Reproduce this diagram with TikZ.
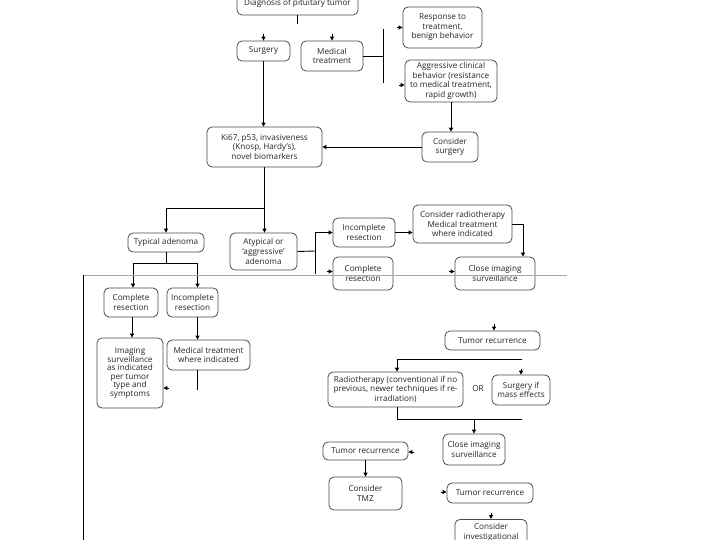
\documentclass[tikz,border=0pt]{standalone}
\usepackage{fontspec}
\setmainfont{Open Sans}
\usetikzlibrary{arrows.meta,calc}
\begin{document}
\begin{tikzpicture}[x=1bp,y=-1bp,
  bx/.style={draw=black!70, line width=0.8bp, rounded corners=5bp, align=center,
    font=\fontsize{8.2}{9.6}\selectfont, inner sep=1bp, text=black!85},
  ln/.style={draw=black, line width=0.9bp},
  ar/.style={ln, -{Triangle[length=4bp,width=4bp]}}]
\clip (0,0) rectangle (720,540);
\fill[white] (0,0) rectangle (720,540);

% upper part
\node[bx, minimum width=121bp, minimum height=23bp] (diag) at (297.5,3.5) {Diagnosis of pituitary tumor};
\node[bx, minimum width=53bp, minimum height=20bp] (surg) at (263.5,51) {Surgery};
\node[bx, minimum width=62bp, minimum height=30bp] (med) at (332,56) {Medical\\treatment};
\node[bx, minimum width=79bp, minimum height=41bp] (resp) at (442.5,27.5) {Response to\\treatment,\\benign behavior};
\node[bx, minimum width=92bp, minimum height=42bp] (aggr) at (451,81) {Aggressive clinical\\behavior (resistance\\to medical treatment,\\rapid growth)};
\node[bx, minimum width=56bp, minimum height=30bp] (cons) at (450,147) {Consider\\surgery};
\node[bx, minimum width=115bp, minimum height=40bp] (ki) at (264.5,147) {Ki67, p53, invasiveness\\(Knosp, Hardy's),\\novel biomarkers};
\node[bx, minimum width=76bp, minimum height=19bp] (typ) at (166,242.5) {Typical adenoma};
\node[bx, minimum width=67bp, minimum height=37bp] (atyp) at (263.5,251.5) {Atypical or\\`aggressive'\\adenoma};
\node[bx, minimum width=54bp, minimum height=29bp] (comL) at (131,302.5) {Complete\\resection};
\node[bx, minimum width=51bp, minimum height=29bp] (incL) at (192.5,302.5) {Incomplete\\resection};
\node[bx, minimum width=66bp, minimum height=70bp, font=\fontsize{8.2}{8.6}\selectfont] (img) at (130,373) {Imaging\\surveillance\\as indicated\\per tumor\\type and\\symptoms};
\node[bx, minimum width=83bp, minimum height=30bp] (medL) at (208.5,355) {Medical treatment\\where indicated};
\node[bx, minimum width=62bp, minimum height=29bp] (incR) at (364,232.5) {Incomplete\\resection};
\node[bx, minimum width=99bp, minimum height=38bp] (rad1) at (462.5,224) {Consider radiotherapy\\Medical treatment\\where indicated};
\node[bx, minimum width=60bp, minimum height=33bp] (comR) at (363,273.5) {Complete\\resection};
\node[bx, minimum width=80bp, minimum height=33bp] (closeR) at (495,273.5) {Close imaging\\surveillance};

% lower part
\node[bx, minimum width=95bp, minimum height=19bp] (tr1) at (492.5,340.5) {Tumor recurrence};
\node[bx, minimum width=135bp, minimum height=35bp] (radio) at (395.5,389.5) {Radiotherapy (conventional if no\\previous, newer techniques if re-\\irradiation)};
\node[font=\fontsize{8.2}{9.6}\selectfont, text=black!85] (or) at (478,389) {OR};
\node[bx, minimum width=58bp, minimum height=30bp] (surg2) at (521,390) {Surgery if\\mass effects};
\node[bx, minimum width=62bp, minimum height=31bp] (close2) at (474,449.5) {Close imaging\\surveillance};
\node[bx, minimum width=85bp, minimum height=18bp] (tr2) at (365.5,451) {Tumor recurrence};
\node[bx, minimum width=73bp, minimum height=33bp] (tmz) at (365.5,493.5) {Consider\\TMZ};
\node[bx, minimum width=86bp, minimum height=20bp] (tr3) at (490,493) {Tumor recurrence};
\node[bx, minimum width=72bp, inner ysep=4bp, anchor=north] (inv) at (491,519) {Consider\\investigational};

% coordinates
\coordinate (bar) at (383,56);
\coordinate (barT) at (383,29);
\coordinate (barB) at (383,83);
\coordinate (j1) at (264.5,208);
\coordinate (j2) at (166,263);
\coordinate (j3) at (315,251);
\coordinate (j3b) at (315,274);
\coordinate (j4) at (522,359);
\coordinate (j5) at (522,419);
\coordinate (gl1) at (83,275);
\coordinate (gl2) at (567,275);
\coordinate (vl) at (83,540);

% connectors upper
\draw[ln] (diag.south) -- ++(0,9);
\draw[ar] ($(surg.north)+(0,-7)$) -- (surg.north);
\draw[ar] ($(med.north)+(0,-7)$) -- (med.north);
\draw[ln] (med.east) -- (bar);
\draw[ln] (barT) -- (barB);
\draw[ar] ($(resp.west)+(-6,0)$) -- (resp.west);
\draw[ar] ($(aggr.west)+(-6,4)$) -- ($(aggr.west)+(0,4)$);
\draw[ar] (aggr.south) -- (aggr.south |- cons.north);
\draw[ar] (cons.west) -- (ki.east);
\draw[ar] (surg.south) -- (surg.south |- ki.north);
\draw[ln] (ki.south) -- (j1);
\draw[ar] (j1) -- (j1 |- atyp.north);
\draw[ar] (j1) -| (typ.north);
\draw[ln] (typ.south) -- (j2);
\draw[ar] (j2) -| ([xshift=2bp]comL.north);
\draw[ar] (j2) -| ([xshift=5bp]incL.north);
\draw[ar] ([xshift=1bp]comL.south) -- ([xshift=1bp]comL.south |- img.north);
\draw[ar] ([xshift=5bp]incL.south) -- ([xshift=5bp]incL.south |- medL.north);
\draw[ln] ([xshift=-11.5bp]medL.south) -- ++(0,20);
\draw[ar] ($(img.east)+(6,15)$) -- ($(img.east)+(0,15)$);
\draw[ln] (atyp.east) -- (j3);
\draw[ar] (j3) |- (incR.west);
\draw[ln] (j3) -- (j3b);
\draw[ar] ($(comR.west)+(-6,-2)$) -- ($(comR.west)+(0,-2)$);
\draw[ar] (incR.east) -- (incR.east -| rad1.west);
\draw[ar] (rad1.east) -| ([xshift=28bp]closeR.north);
\draw[ar] ($(closeR.west)+(-6,-2)$) -- ($(closeR.west)+(0,-2)$);

% divider and left line
\draw[black!35, line width=0.7bp] (gl1) -- (gl2);
\draw[ln] (gl1) -- (vl);

% connectors lower
\draw[ar] ($(tr1.north)+(1.5,-7)$) -- ($(tr1.north)+(1.5,0)$);
\draw[ar] (j4) -| ([xshift=1.5bp]radio.north);
\draw[ar] ($(surg2.north)+(0,-6)$) -- (surg2.north);
\draw[ln] ([xshift=1.5bp]radio.south) |- (j5);
\draw[ar] (close2.north |- j5) -- (close2.north);
\draw[ar] ($(tr2.east)+(6,1)$) -- ($(tr2.east)+(0,1)$);
\draw[ar] (tr2.south) -- (tr2.south |- tmz.north);
\draw[ar] ($(tr3.west)+(-6,-1)$) -- ($(tr3.west)+(0,-1)$);
\draw[ar] ($(inv.north)+(0,-6)$) -- (inv.north);
\end{tikzpicture}
\end{document}
